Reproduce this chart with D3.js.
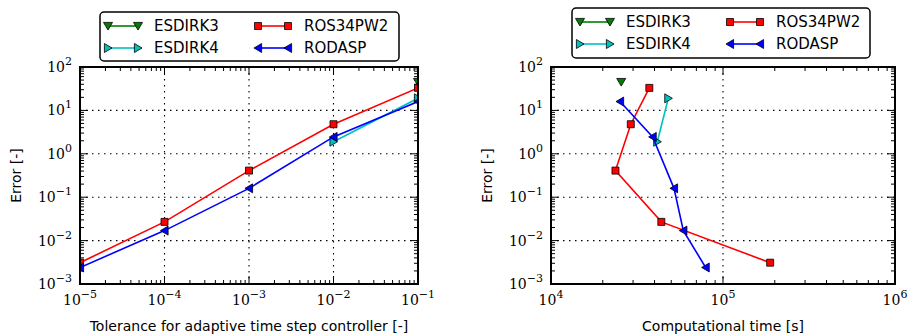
<!DOCTYPE html>
<html>
<head>
<meta charset="utf-8">
<script src="https://cdn.jsdelivr.net/npm/d3@7"></script>
<style>
  body { margin: 0; background: #fff; }
  svg { display: block; }
</style>
</head>
<body>
<div id="frame"></div>
<script>
// data
const tolerances = [1e-5, 1e-4, 1e-3, 1e-2, 1e-1];

const esdirk3Tol = [1e-1];
const esdirk3Err = [45];
const esdirk3Time = [25600];

const esdirk4Tol = [1e-2, 1e-1];
const esdirk4Err = [1.9, 19];
const esdirk4Time = [41500, 48100];

const ros34Err = [0.0031, 0.027, 0.41, 4.8, 33];
const ros34Time = [188000, 43800, 23700, 29100, 37300];

const rodaspErr = [0.0024, 0.017, 0.16, 2.45, 16];
const rodaspTime = [79300, 58800, 51900, 39000, 25200];

const legendNames = ["ESDIRK3", "ESDIRK4", "ROS34PW2", "RODASP"];
const yTicks = [-3, -2, -1, 0, 1, 2];
const xTicksLeft = [-5, -4, -3, -2, -1];
const xTicksRight = [4, 5, 6];

const series = [
  {name: "ESDIRK3", color: "#007f00", marker: "down", tol: esdirk3Tol, err: esdirk3Err, time: esdirk3Time},
  {name: "ESDIRK4", color: "#00bfbf", marker: "right", tol: esdirk4Tol, err: esdirk4Err, time: esdirk4Time},
  {name: "ROS34PW2", color: "#ff0000", marker: "square", tol: tolerances, err: ros34Err, time: ros34Time},
  {name: "RODASP", color: "#0000ff", marker: "left", tol: tolerances, err: rodaspErr, time: rodaspTime}
];

const width = 913, height = 336;
const svg = d3.select("#frame").append("svg")
    .attr("width", width)
    .attr("height", height);

const plotTop = 67, plotBottom = 284;

function markerPath(type) {
  const s = 4.5;
  if (type == "square") return "M-3.5,-3.5H3.5V3.5H-3.5Z";
  if (type == "down") return "M" + (-s) + "," + (-s * 0.8) + "L" + s + "," + (-s * 0.8) + "L0," + (s * 0.9) + "Z";
  if (type == "right") return "M" + (-s * 0.8) + "," + (-s) + "L" + (s * 0.9) + ",0L" + (-s * 0.8) + "," + s + "Z";
  return "M" + (s * 0.8) + "," + (-s) + "L" + (-s * 0.9) + ",0L" + (s * 0.8) + "," + s + "Z";
}

function supLabel(sel, exp) {
  sel.append("tspan").text("10");
  sel.append("tspan").attr("dy", -7).style("font-size", "11px")
      .text(exp < 0 ? "\u2212" + (-exp) : String(exp));
}

function drawPanel(id, left, right, xDomainExp, xTickExps, xLabel, xKey) {
  const xScale = d3.scaleLog().domain([Math.pow(10, xDomainExp[0]), Math.pow(10, xDomainExp[1])]).range([left, right]);
  const yScale = d3.scaleLog().domain([1e-3, 1e2]).range([plotBottom, plotTop]);
  const g = svg.append("g");

  svg.append("clipPath").attr("id", "clip" + id)
    .append("rect").attr("x", left).attr("y", plotTop)
    .attr("width", right - left).attr("height", plotBottom - plotTop);

  // grid
  xTickExps.forEach(e => {
    const x = xScale(Math.pow(10, e));
    g.append("line").attr("x1", x).attr("x2", x).attr("y1", plotTop).attr("y2", plotBottom)
      .attr("stroke", "#000").attr("stroke-width", 1.1).attr("stroke-dasharray", "1.5,4.5");
  });
  yTicks.forEach(e => {
    const y = yScale(Math.pow(10, e));
    g.append("line").attr("x1", left).attr("x2", right).attr("y1", y).attr("y2", y)
      .attr("stroke", "#000").attr("stroke-width", 1.1).attr("stroke-dasharray", "1.5,4.5");
  });

  // minor + major ticks on all four sides
  const xAll = xScale.ticks();
  xAll.forEach(v => {
    const major = Math.abs(Math.log10(v) - Math.round(Math.log10(v))) < 1e-9;
    const len = major ? 8 : 4;
    const x = xScale(v);
    g.append("line").attr("x1", x).attr("x2", x).attr("y1", plotBottom).attr("y2", plotBottom - len).attr("stroke", "#000").attr("stroke-width", 1);
    g.append("line").attr("x1", x).attr("x2", x).attr("y1", plotTop).attr("y2", plotTop + len).attr("stroke", "#000").attr("stroke-width", 1);
  });
  const yAll = yScale.ticks();
  yAll.forEach(v => {
    const major = Math.abs(Math.log10(v) - Math.round(Math.log10(v))) < 1e-9;
    const len = major ? 8 : 4;
    const y = yScale(v);
    g.append("line").attr("x1", left).attr("x2", left + len).attr("y1", y).attr("y2", y).attr("stroke", "#000").attr("stroke-width", 1);
    g.append("line").attr("x1", right).attr("x2", right - len).attr("y1", y).attr("y2", y).attr("stroke", "#000").attr("stroke-width", 1);
  });

  // series
  const plot = g.append("g").attr("clip-path", "url(#clip" + id + ")");
  series.forEach(s => {
    const pts = s[xKey].map((xv, i) => [xScale(xv), yScale(s.err[i])]);
    plot.append("path")
      .attr("d", d3.line()(pts))
      .attr("fill", "none")
      .attr("stroke", s.color)
      .attr("stroke-width", 1.6);
    pts.forEach(p => {
      plot.append("path")
        .attr("d", markerPath(s.marker))
        .attr("transform", "translate(" + p[0] + "," + p[1] + ")")
        .attr("fill", s.color)
        .attr("stroke", "#000")
        .attr("stroke-width", 0.8);
    });
  });

  // frame
  g.append("rect").attr("x", left).attr("y", plotTop)
    .attr("width", right - left).attr("height", plotBottom - plotTop)
    .attr("fill", "none").attr("stroke", "#000").attr("stroke-width", 2);

  // tick labels
  xTickExps.forEach(e => {
    g.append("text")
      .attr("x", xScale(Math.pow(10, e)))
      .attr("y", plotBottom + 21)
      .attr("text-anchor", "middle")
      .style("font-family", "'DejaVu Serif', serif")
      .style("font-size", "14px")
      .call(supLabel, e);
  });
  yTicks.forEach(e => {
    g.append("text")
      .attr("x", left - 8)
      .attr("y", yScale(Math.pow(10, e)) + 5)
      .attr("text-anchor", "end")
      .style("font-family", "'DejaVu Serif', serif")
      .style("font-size", "14px")
      .call(supLabel, e);
  });

  // axis labels
  g.append("text")
    .attr("x", (left + right) / 2)
    .attr("y", 331)
    .attr("text-anchor", "middle")
    .style("font-family", "'DejaVu Sans', sans-serif")
    .style("font-size", "14px")
    .text(xLabel);
  g.append("text")
    .attr("transform", "rotate(-90)")
    .attr("x", -(plotTop + plotBottom) / 2)
    .attr("y", left - 59)
    .attr("text-anchor", "middle")
    .style("font-family", "'DejaVu Sans', sans-serif")
    .style("font-size", "14px")
    .text("Error [-]");
}

function drawLegend(bx, by, bw, bh) {
  const lg = svg.append("g").attr("transform", "translate(" + bx + "," + by + ")");
  lg.append("rect").attr("width", bw).attr("height", bh).attr("rx", 4)
    .attr("fill", "#fff").attr("stroke", "#000").attr("stroke-width", 1.5);
  legendNames.forEach((name, i) => {
    const s = series.find(d => d.name == name);
    const col = Math.floor(i / 2), row = i % 2;
    const x0 = 8 + col * 150, x1 = x0 + 30;
    const y = 14 + row * 22;
    lg.append("line").attr("x1", x0).attr("x2", x1).attr("y1", y).attr("y2", y)
      .attr("stroke", s.color).attr("stroke-width", 1.6);
    [x0, x1].forEach(x => {
      lg.append("path").attr("d", markerPath(s.marker))
        .attr("transform", "translate(" + x + "," + y + ")")
        .attr("fill", s.color).attr("stroke", "#000").attr("stroke-width", 0.8);
    });
    lg.append("text").attr("x", x1 + 16).attr("y", y + 5)
      .style("font-family", "'DejaVu Sans', sans-serif")
      .style("font-size", "15px")
      .text(name);
  });
}

drawPanel("L", 80, 418, [-5, -1], xTicksLeft, "Tolerance for adaptive time step controller [-]", "tol");
drawPanel("R", 551, 895, [4, 6], xTicksRight, "Computational time [s]", "time");
drawLegend(100, 12, 299, 49);
drawLegend(572, 8, 298, 50);
</script>
</body>
</html>
